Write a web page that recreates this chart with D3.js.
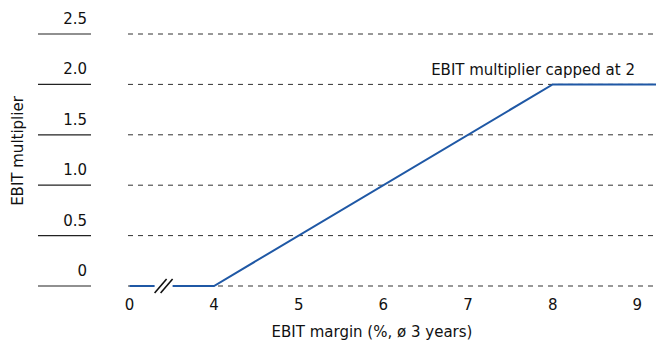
<!DOCTYPE html>
<html>
<head>
<meta charset="utf-8">
<script src="https://cdn.jsdelivr.net/npm/d3@7"></script>
<style>
  html, body { margin: 0; padding: 0; background: #fff; }
  svg { display: block; }
  text { font-family: "DejaVu Sans", sans-serif; fill: #111; }
</style>
</head>
<body>
<svg id="chart" width="656" height="344"></svg>
<script>
// EBIT margin (%) on x, EBIT multiplier on y; axis is broken between 0 and 4
const marginPoints = [0, 4, 8, 9.22];
const multiplierValues = [0, 0, 2, 2];
const yTicks = [0, 0.5, 1.0, 1.5, 2.0, 2.5];
const yTickLabels = ["0", "0.5", "1.0", "1.5", "2.0", "2.5"];
const xTicks = [0, 4, 5, 6, 7, 8, 9];
const xTickLabels = ["0", "4", "5", "6", "7", "8", "9"];
const capLabel = "EBIT multiplier capped at 2";
const xTitle = "EBIT margin (%, ø 3 years)";
const yTitle = "EBIT multiplier";

const svg = d3.select("#chart");

// piecewise scale: 0..4 squeezed into one unit to show the axis break
const x = d3.scaleLinear().domain([0, 4, 9.22]).range([129.6, 214, 656]);
const y = d3.scaleLinear().domain([0, 2.5]).range([286, 34]);

// horizontal gridlines (dashed) and the short solid tick rules on the left
const g = svg.append("g");
g.selectAll("line.grid").data(yTicks).join("line")
  .attr("class", "grid")
  .attr("x1", 128).attr("x2", 656)
  .attr("y1", d => y(d)).attr("y2", d => y(d))
  .attr("stroke", "#333").attr("stroke-width", 1)
  .attr("stroke-dasharray", "5,5");

g.selectAll("line.rule").data(yTicks).join("line")
  .attr("class", "rule")
  .attr("x1", 38).attr("x2", 91)
  .attr("y1", d => y(d)).attr("y2", d => y(d))
  .attr("stroke", "#222").attr("stroke-width", 1.2);

g.selectAll("text.ylab").data(yTicks).join("text")
  .attr("class", "ylab")
  .attr("x", 87).attr("y", d => y(d) - 10)
  .attr("text-anchor", "end")
  .attr("font-size", 15)
  .text((d, i) => yTickLabels[i]);

// x tick labels
g.selectAll("text.xlab").data(xTicks).join("text")
  .attr("class", "xlab")
  .attr("x", d => x(d)).attr("y", 310)
  .attr("text-anchor", "middle")
  .attr("font-size", 15)
  .text((d, i) => xTickLabels[i]);

// the multiplier curve
const pts = marginPoints.map((m, i) => [m, multiplierValues[i]]);
const line = d3.line().x(d => x(d[0])).y(d => y(d[1]));
svg.append("path")
  .datum(pts)
  .attr("d", line)
  .attr("fill", "none")
  .attr("stroke", "#1f58a5")
  .attr("stroke-width", 2)
  .attr("stroke-linejoin", "miter");

// axis break marker: white gap with two slanted strokes
const bx = x(0) + 34, by = y(0);
svg.append("rect")
  .attr("x", bx - 9).attr("y", by - 3).attr("width", 18).attr("height", 6)
  .attr("fill", "#fff");
[-3, 3].forEach(off => {
  svg.append("line")
    .attr("x1", bx + off - 6).attr("y1", by + 7)
    .attr("x2", bx + off + 6).attr("y2", by - 7)
    .attr("stroke", "#111").attr("stroke-width", 1.6);
});

// annotation above the cap
svg.append("text")
  .attr("x", 635).attr("y", y(2) - 9)
  .attr("text-anchor", "end")
  .attr("font-size", 15)
  .text(capLabel);

// axis titles
svg.append("text")
  .attr("x", 372).attr("y", 337)
  .attr("text-anchor", "middle")
  .attr("font-size", 15)
  .text(xTitle);

svg.append("text")
  .attr("transform", "translate(23,151) rotate(-90)")
  .attr("text-anchor", "middle")
  .attr("font-size", 15)
  .text(yTitle);
</script>
</body>
</html>
